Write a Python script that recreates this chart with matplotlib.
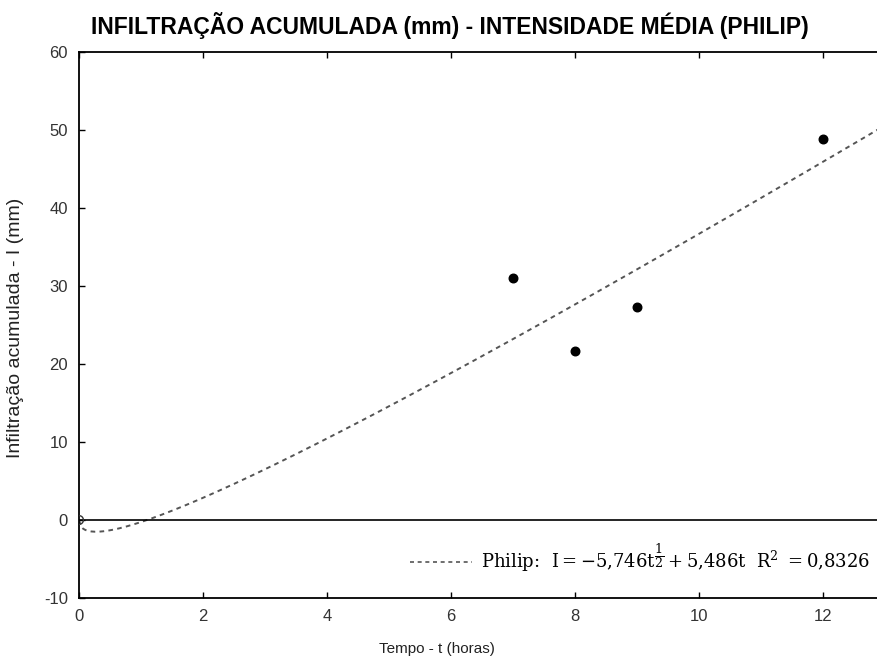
import numpy as np
import matplotlib
matplotlib.use("Agg")
import matplotlib.pyplot as plt
from matplotlib.lines import Line2D

# observed cumulative infiltration
tempo = [7, 8, 9, 12]
infiltracao = [31.0, 21.7, 27.3, 48.8]

# Philip fit coefficients
coef_s = -5.746
coef_a = 5.486
r2 = "0,8326"

xticks = [0, 2, 4, 6, 8, 10, 12]
yticks = [-10, 0, 10, 20, 30, 40, 50, 60]

plt.rcParams['font.family'] = ['Liberation Sans', 'DejaVu Sans']
plt.rcParams['axes.unicode_minus'] = False
plt.rcParams['mathtext.fontset'] = 'dejavuserif'

fig = plt.figure(figsize=(8.77, 6.64), dpi=100)
ax = fig.add_axes([0.0901, 0.0994, 0.9099, 0.8223])

t = np.linspace(0, 13, 400)
curva = coef_s * np.sqrt(t) + coef_a * t
ax.plot(t, curva, color='#555555', lw=1.4, dashes=(2.4, 2.2))
ax.axhline(0, color='black', lw=1.2)
ax.scatter(tempo, infiltracao, s=38, color='black', zorder=3)
# first reading at the origin, half hidden by the axis
ax.scatter([0], [0], s=40, facecolor='none', edgecolor='#333333', lw=1.0, zorder=3)

ax.set_xlim(0, 12.87)
ax.set_ylim(-10, 60)
ax.set_xticks(xticks)
ax.set_yticks(yticks)
ax.tick_params(direction='in', top=True, labelsize=12, length=4, width=1, pad=8,
               labelcolor='#333333')
for s in ['left', 'bottom', 'top']:
    ax.spines[s].set_linewidth(1.3)
ax.spines['right'].set_visible(False)

fig.text(0.513, 0.962, 'INFILTRAÇÃO ACUMULADA (mm) - INTENSIDADE MÉDIA (PHILIP)',
         ha='center', va='center', fontsize=16.5, fontweight='bold')
fig.text(0.498, 0.022, 'Tempo - t (horas)', ha='center', va='center', fontsize=11,
         color='#222222')
fig.text(0.018, 0.506, 'Infiltração acumulada - I (mm)', ha='center', va='center',
         rotation=90, fontsize=14, color='#222222')

# legend entry with the fitted equation
rotulo = (r'Philip:  $\mathrm{I = -5{,}746t^{\dfrac{1}{2}} + 5{,}486t}$  '
          r'$\mathrm{R^2\ = 0{,}8326}$')
h = Line2D([], [], color='#555555', lw=1.2, dashes=(2.4, 2.2))
leg = ax.legend([h], [rotulo], loc='center right', frameon=False,
                prop={'family': 'DejaVu Serif', 'size': 13},
                handlelength=3.4, handletextpad=0.5, borderaxespad=0.0,
                bbox_to_anchor=(1.0, 0.072))

fig.savefig('out.png', dpi=100)
